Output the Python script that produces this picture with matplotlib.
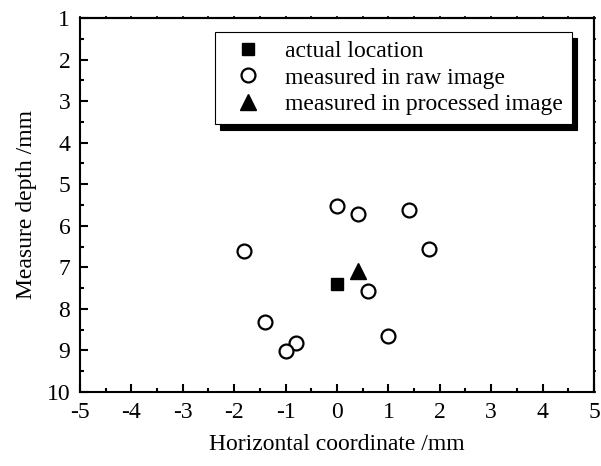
import numpy as np
import matplotlib
matplotlib.use("Agg")
import matplotlib.pyplot as plt
from matplotlib.ticker import MultipleLocator

plt.rcParams["font.family"] = ["Liberation Serif", "DejaVu Serif"]
plt.rcParams["font.size"] = 17
plt.rcParams["axes.unicode_minus"] = False

# actual location
actual_x = [0.0]
actual_y = [7.4]
# measured in raw image
raw_x = [0.0, 0.4, 1.4, 1.8, -1.8, 0.6, -1.4, -0.8, -1.0, 1.0]
raw_y = [5.53, 5.72, 5.63, 6.55, 6.61, 7.57, 8.31, 8.81, 9.02, 8.66]
# measured in processed image
proc_x = [0.4]
proc_y = [7.08]

fig = plt.figure(figsize=(6.01, 4.66), dpi=100)
ax = fig.add_axes([0.1331, 0.1588, 0.8552, 0.8026])

ax.plot(actual_x, actual_y, "s", color="k", markersize=9, linestyle="none", label="actual location")
ax.plot(raw_x, raw_y, "o", mfc="white", mec="k", mew=1.6, markersize=10, linestyle="none", label="measured in raw image")
ax.plot(proc_x, proc_y, "^", color="k", markersize=11, linestyle="none", label="measured in processed image")

ax.set_xlim(-5, 5)
ax.set_ylim(10, 1)
ax.xaxis.set_major_locator(MultipleLocator(1))
ax.xaxis.set_minor_locator(MultipleLocator(0.5))
ax.yaxis.set_major_locator(MultipleLocator(1))
ax.yaxis.set_minor_locator(MultipleLocator(0.5))
ax.tick_params(which="both", direction="in", top=False, right=False, width=1.5)
ax.tick_params(which="major", length=6, labelsize=17, pad=7)
ax.tick_params(which="minor", length=3)
for s in ax.spines.values():
    s.set_linewidth(1.5)

# tiny outward ticks on the top and right spines
top = ax.secondary_xaxis("top")
top.xaxis.set_major_locator(MultipleLocator(0.5))
top.tick_params(direction="out", length=1.5, width=1.2, labeltop=False)
right = ax.secondary_yaxis("right")
right.yaxis.set_major_locator(MultipleLocator(0.5))
right.tick_params(direction="out", length=1.5, width=1.2, labelright=False)
for sec in (top, right):
    for s in sec.spines.values():
        s.set_linewidth(1.5)

ax.set_xlabel("Horizontal coordinate /mm", fontsize=17, labelpad=8)
ax.set_ylabel("Measure depth /mm", fontsize=17, labelpad=7)

leg = ax.legend(loc="upper right", bbox_to_anchor=(0.957, 0.963), borderaxespad=0,
                fancybox=False, shadow={"ox": 4, "oy": -4.5, "color": "k", "alpha": 1},
                edgecolor="k", framealpha=1, fontsize=17, handletextpad=0.5,
                labelspacing=0.2, borderpad=0.38, handlelength=2.1)
leg.get_frame().set_linewidth(0.8)

fig.savefig("out.png", dpi=100)
